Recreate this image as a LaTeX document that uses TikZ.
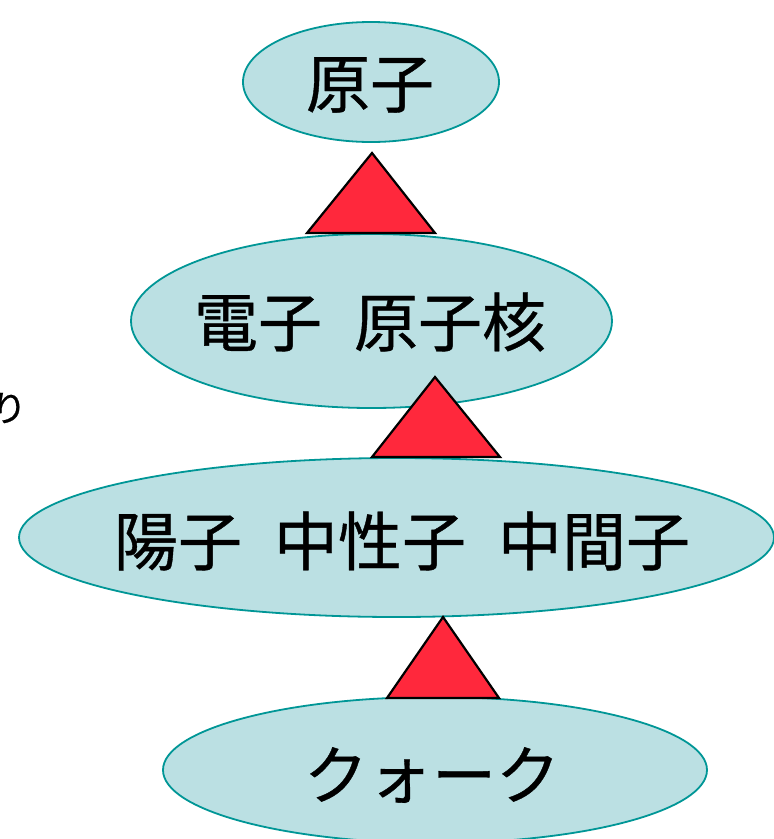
\documentclass[tikz,border=0pt]{standalone}
\usepackage{fontspec}
\newfontfamily\jp[FakeBold=0.6]{Noto Sans CJK JP}
\usetikzlibrary{shapes.geometric}
\definecolor{ellfill}{RGB}{187,224,227}
\definecolor{elldraw}{RGB}{0,150,150}
\definecolor{trired}{RGB}{255,40,60}
\begin{document}
\begin{tikzpicture}[x=1pt,y=-1pt,
  ell/.style={ellipse, draw=elldraw, fill=ellfill, line width=1.8pt, inner sep=0pt},
  lbl/.style={font=\jp\fontsize{64}{72}\selectfont, inner sep=0pt, text=black},
  small/.style={font=\jp\fontsize{36}{42}\selectfont, inner sep=0pt, text=black},
  tribox/.style={draw=black, fill=trired, line width=2.2pt, line join=miter}]
\useasboundingbox (0,0) rectangle (774,839);
% ellipses
\node[ell, minimum width=256, minimum height=120] (e1) at (371,82) {};
\node[ell, minimum width=481, minimum height=174] (e2) at (371.5,321) {};
\node[ell, minimum width=755, minimum height=159] (e3) at (396.5,537.5) {};
\node[ell, minimum width=544, minimum height=146] (e4) at (435,770) {};
% triangles
\draw[tribox] (372,153) -- (307,233) -- (435,233) -- cycle;
\draw[tribox] (435,377) -- (372,457) -- (500,457) -- cycle;
\draw[tribox] (443,617) -- (387,698) -- (499,698) -- cycle;
% labels
\node[lbl] (l1) at (370,85) {原子};
\node[lbl] (l2) at (370,322) {電子\enspace 原子核};
\node[lbl] (l3) at (402,541) {陽子\enspace 中性子\enspace 中間子};
\node[lbl] (l4) at (432,775) {クォーク};
\node[small, anchor=east] (side) at (27,408) {り};
\end{tikzpicture}
\end{document}
